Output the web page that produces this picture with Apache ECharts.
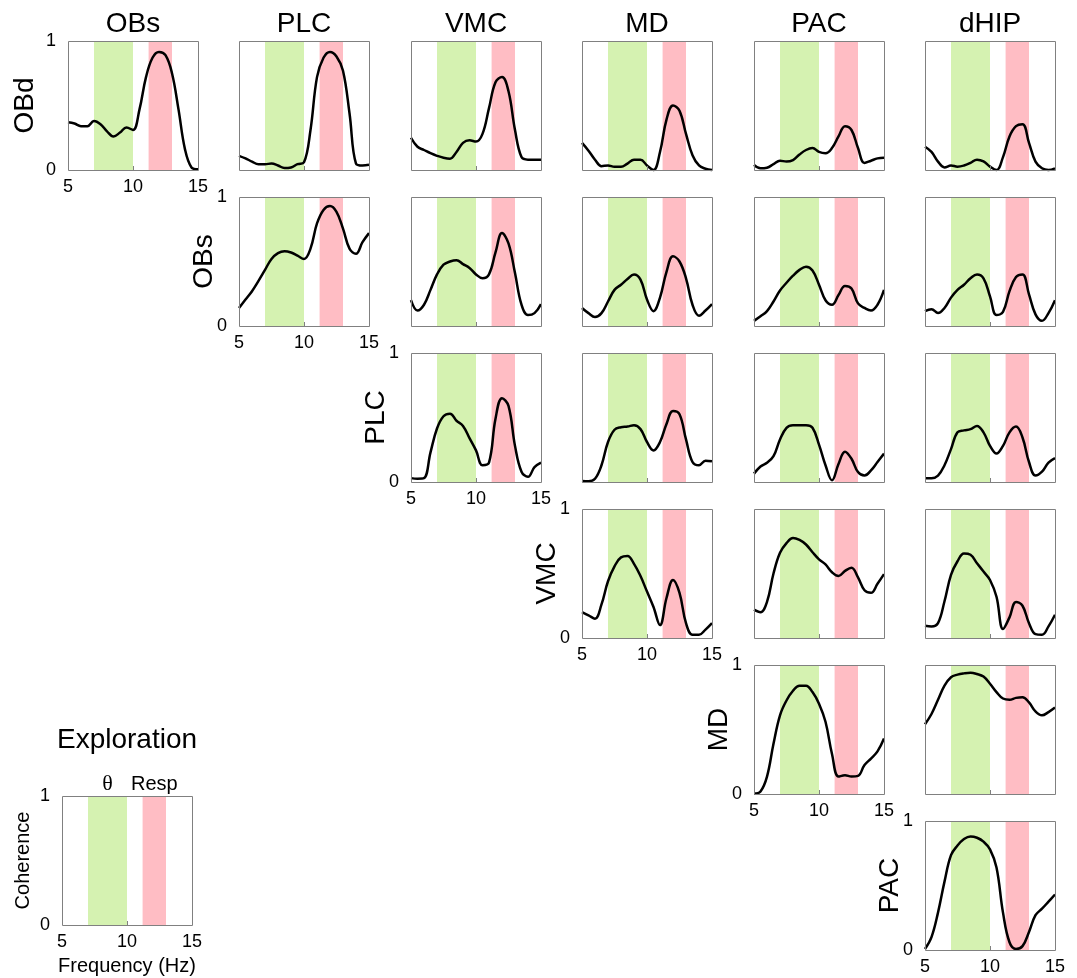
<!DOCTYPE html>
<html>
 <head>
  <meta charset="utf-8" />
  <script type="text/javascript" src="https://cdn.jsdelivr.net/npm/echarts@6/dist/echarts.min.js"></script>
 </head>
 <body style="margin: 0; background: #fff">
  <div id="main" style="width:1077px;height:978px;"></div>
  <script type="text/javascript">
   // frequency grid (Hz) shared by every coherence curve
   var freq = [5, 5.5, 6, 6.5, 7, 7.5, 8, 8.5, 9, 9.5, 10, 10.5, 11, 11.5, 12, 12.5, 13, 13.5, 14, 14.5, 15];
   var rowNames = ['OBd', 'OBs', 'PLC', 'VMC', 'MD', 'PAC'];
   var colNames = ['OBs', 'PLC', 'VMC', 'MD', 'PAC', 'dHIP'];
   var thetaBand = [7, 10];
   var respBand = [11.2, 13];

   // coherence values
   var obdObs  = [0.37, 0.36, 0.34, 0.34, 0.38, 0.355, 0.30, 0.26, 0.29, 0.33, 0.31, 0.47, 0.72, 0.87, 0.915, 0.89, 0.75, 0.47, 0.16, 0.02, 0.005];
   var obdPlc  = [0.11, 0.09, 0.065, 0.045, 0.045, 0.05, 0.035, 0.015, 0.02, 0.045, 0.06, 0.31, 0.72, 0.87, 0.915, 0.88, 0.77, 0.44, 0.05, 0.035, 0.04];
   var obdVmc  = [0.25, 0.18, 0.155, 0.13, 0.11, 0.095, 0.088, 0.14, 0.21, 0.23, 0.22, 0.28, 0.48, 0.68, 0.72, 0.61, 0.31, 0.10, 0.08, 0.08, 0.08];
   var obdMd   = [0.21, 0.15, 0.08, 0.03, 0.035, 0.025, 0.025, 0.05, 0.08, 0.08, 0.035, 0.0, 0.14, 0.39, 0.50, 0.46, 0.28, 0.115, 0.035, 0.01, 0.0];
   var obdPac  = [0.04, 0.013, 0.018, 0.045, 0.072, 0.065, 0.077, 0.12, 0.155, 0.17, 0.14, 0.13, 0.17, 0.26, 0.34, 0.31, 0.17, 0.055, 0.072, 0.09, 0.095];
   var obdDhip = [0.18, 0.14, 0.065, 0.02, 0.035, 0.026, 0.035, 0.055, 0.08, 0.067, 0.026, 0.0, 0.10, 0.26, 0.34, 0.355, 0.21, 0.065, 0.013, 0.0, 0.013];

   var obsPlc  = [0.14, 0.205, 0.27, 0.35, 0.435, 0.52, 0.565, 0.58, 0.57, 0.545, 0.52, 0.60, 0.795, 0.90, 0.93, 0.885, 0.755, 0.60, 0.56, 0.65, 0.72];
   var obsVmc  = [0.20, 0.12, 0.165, 0.28, 0.40, 0.475, 0.50, 0.51, 0.48, 0.45, 0.40, 0.37, 0.40, 0.57, 0.72, 0.64, 0.41, 0.165, 0.085, 0.10, 0.17];
   var obsMd   = [0.14, 0.10, 0.07, 0.10, 0.19, 0.28, 0.32, 0.365, 0.40, 0.36, 0.205, 0.115, 0.22, 0.42, 0.54, 0.50, 0.37, 0.165, 0.08, 0.12, 0.17];
   var obsPac  = [0.04, 0.075, 0.115, 0.19, 0.275, 0.335, 0.39, 0.435, 0.46, 0.43, 0.32, 0.20, 0.165, 0.24, 0.31, 0.29, 0.175, 0.14, 0.12, 0.165, 0.28];
   var obsDhip = [0.115, 0.13, 0.10, 0.14, 0.22, 0.28, 0.32, 0.37, 0.40, 0.37, 0.23, 0.085, 0.11, 0.27, 0.38, 0.40, 0.245, 0.09, 0.04, 0.10, 0.20];

   var plcVmc  = [0.03, 0.026, 0.03, 0.23, 0.415, 0.51, 0.53, 0.475, 0.435, 0.34, 0.245, 0.13, 0.15, 0.49, 0.65, 0.59, 0.28, 0.08, 0.04, 0.115, 0.15];
   var plcMd   = [0.008, 0.005, 0.025, 0.13, 0.31, 0.405, 0.425, 0.43, 0.44, 0.41, 0.31, 0.245, 0.31, 0.45, 0.55, 0.525, 0.33, 0.155, 0.13, 0.165, 0.16];
   var plcPac  = [0.065, 0.12, 0.15, 0.20, 0.33, 0.42, 0.44, 0.44, 0.44, 0.42, 0.29, 0.13, 0.013, 0.14, 0.235, 0.18, 0.077, 0.05, 0.09, 0.155, 0.22];
   var plcDhip = [0.03, 0.03, 0.05, 0.13, 0.255, 0.385, 0.40, 0.41, 0.435, 0.385, 0.28, 0.22, 0.28, 0.385, 0.43, 0.345, 0.155, 0.05, 0.08, 0.15, 0.185];

   var vmcMd   = [0.20, 0.175, 0.15, 0.26, 0.44, 0.555, 0.625, 0.635, 0.575, 0.48, 0.36, 0.24, 0.10, 0.31, 0.45, 0.35, 0.115, 0.025, 0.025, 0.065, 0.115];
   var vmcPac  = [0.22, 0.20, 0.28, 0.50, 0.66, 0.735, 0.775, 0.76, 0.725, 0.665, 0.61, 0.57, 0.51, 0.48, 0.52, 0.545, 0.47, 0.37, 0.35, 0.42, 0.495];
   var vmcDhip = [0.095, 0.09, 0.115, 0.285, 0.49, 0.595, 0.655, 0.645, 0.58, 0.515, 0.45, 0.32, 0.07, 0.16, 0.28, 0.25, 0.115, 0.03, 0.025, 0.09, 0.18];

   var mdPac   = [0.003, 0.02, 0.135, 0.39, 0.61, 0.725, 0.80, 0.84, 0.84, 0.79, 0.70, 0.56, 0.31, 0.135, 0.145, 0.135, 0.14, 0.225, 0.275, 0.33, 0.43];
   var mdDhip  = [0.54, 0.62, 0.73, 0.84, 0.905, 0.925, 0.935, 0.94, 0.93, 0.91, 0.855, 0.79, 0.74, 0.73, 0.745, 0.75, 0.71, 0.64, 0.61, 0.635, 0.67];

   var pacDhip = [0.008, 0.10, 0.29, 0.53, 0.735, 0.81, 0.86, 0.88, 0.87, 0.84, 0.78, 0.64, 0.29, 0.06, 0.008, 0.03, 0.14, 0.27, 0.32, 0.375, 0.43];

   var coh = [
     [obdObs, obdPlc, obdVmc, obdMd, obdPac, obdDhip],
     [null, obsPlc, obsVmc, obsMd, obsPac, obsDhip],
     [null, null, plcVmc, plcMd, plcPac, plcDhip],
     [null, null, null, vmcMd, vmcPac, vmcDhip],
     [null, null, null, null, mdPac, mdDhip],
     [null, null, null, null, null, pacDhip]
   ];

   var font = '"Liberation Sans", Arial, sans-serif';
   var green = '#d5f2b1';
   var pink = '#ffbdc4';
   var W = 130, H = 129;
   var grids = [], xAxes = [], yAxes = [], series = [], graphics = [];

   function colX(c) { return Math.round(68 + c * 171.4); }
   function rowY(r) { return Math.round(41 + r * 156); }

   function addPanel(left, top, values, labels) {
     var i = grids.length;
     grids.push({ left: left, top: top, width: W, height: H, show: true, backgroundColor: '#fff', borderWidth: 0 });
     xAxes.push({
       gridIndex: i, type: 'value', min: 5, max: 15, interval: 5, z: 10,
       axisLine: { show: false }, splitLine: { show: false },
       axisTick: { show: true, inside: true, length: 4, lineStyle: { color: '#808080' } },
       axisLabel: { show: labels, margin: 8, fontSize: 18, color: '#000', fontFamily: font, showMinLabel: true, showMaxLabel: true }
     });
     yAxes.push({
       gridIndex: i, type: 'value', min: 0, max: 1, interval: 1,
       axisLine: { show: false }, splitLine: { show: false }, axisTick: { show: false },
       axisLabel: { show: labels, margin: 12, fontSize: 18, color: '#000', fontFamily: font, showMinLabel: true, showMaxLabel: true }
     });
     series.push({
       type: 'line', xAxisIndex: i, yAxisIndex: i,
       data: values ? freq.map(function (f, k) { return [f, values[k]]; }) : [],
       showSymbol: false, smooth: 0.4, clip: false, animation: false,
       lineStyle: { color: '#000', width: 2.5 },
       markArea: {
         silent: true,
         data: [
           [{ xAxis: thetaBand[0], itemStyle: { color: green } }, { xAxis: thetaBand[1] }],
           [{ xAxis: respBand[0], itemStyle: { color: pink } }, { xAxis: respBand[1] }]
         ]
       }
     });
     graphics.push({
       type: 'rect', z: 100, silent: true,
       shape: { x: left + 0.5, y: top + 0.5, width: W, height: H },
       style: { fill: null, stroke: '#808080', lineWidth: 1 }
     });
   }

   function addText(txt, x, y, size, rot, family) {
     graphics.push({
       type: 'text', x: x, y: y, rotation: rot || 0, z: 100, silent: true,
       style: { text: txt, font: size + 'px ' + (family || font), fill: '#000', align: 'center', verticalAlign: 'middle' }
     });
   }

   for (var r = 0; r < 6; r++) {
     for (var c = r; c < 6; c++) {
       addPanel(colX(c), rowY(r), coh[r][c], r === c);
     }
     addText(rowNames[r], colX(r) - (r === 0 ? 43 : 35), rowY(r) + H / 2, 28, Math.PI / 2);
   }
   for (var c = 0; c < 6; c++) {
     addText(colNames[c], colX(c) + W / 2, 24, 28);
   }

   // key panel
   var kx = 62, ky = 796;
   addPanel(kx, ky, null, true);
   addText('Exploration', kx + W / 2, 740, 28);
   addText('\u03b8', kx + (thetaBand[0] + thetaBand[1] - 10) / 2 * 13, 784, 22, 0, '"Liberation Serif", "Times New Roman", serif');
   addText('Resp', kx + (respBand[0] + respBand[1] - 10) / 2 * 13, 784, 20);
   addText('Coherence', 23, ky + H / 2, 20, Math.PI / 2);
   addText('Frequency (Hz)', kx + W / 2, 966, 20);

   var myChart = echarts.init(document.getElementById('main'));
   myChart.setOption({
     animation: false,
     backgroundColor: '#fff',
     grid: grids,
     xAxis: xAxes,
     yAxis: yAxes,
     series: series,
     graphic: graphics
   });
  </script>
 </body>
</html>
